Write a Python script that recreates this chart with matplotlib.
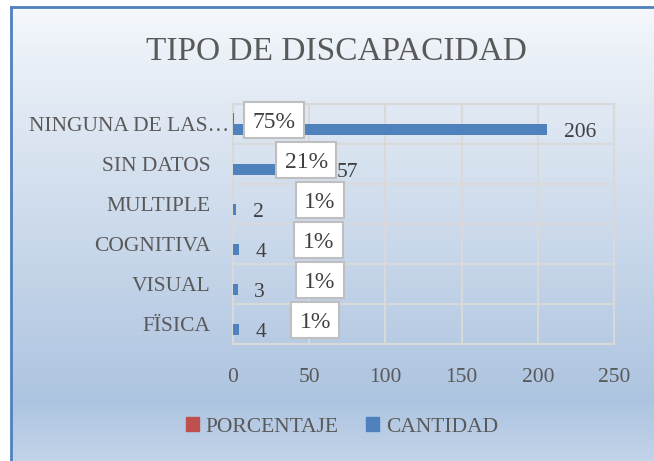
import numpy as np
import matplotlib
matplotlib.use("Agg")
import matplotlib.pyplot as plt
from matplotlib.lines import Line2D
from matplotlib.patches import Patch
from matplotlib.path import Path
from matplotlib.transforms import ScaledTranslation

plt.rcParams["font.family"] = ["Liberation Serif", "DejaVu Serif"]

categories = ["NINGUNA DE LAS…", "SIN DATOS", "MULTIPLE", "COGNITIVA", "VISUAL", "FÏSICA"]
cantidad = [206, 57, 2, 4, 3, 4]
porcentaje = [0.75, 0.21, 0.01, 0.01, 0.01, 0.01]
pct_labels = ["75%", "21%", "1%", "1%", "1%", "1%"]

# where the (manually moved) percentage boxes sit, in data units
pct_label_x = [27, 48, 57, 56, 57, 54]

TEXT = "#595959"
RED = "#c0504d"
BLUE = "#4f81bd"
GRID = "#d9d9d9"
FS = 15.5

W, H = 654, 461
fig = plt.figure(figsize=(W / 100, H / 100), dpi=100)

# gradient chart background with blue border on top/left
bg = fig.add_axes([0, 0, 1, 1], zorder=-10)
stops_y = [7, 100, 250, 400, 461]
stops_c = ["#f5f8fc", "#e2eaf4", "#c8d7ea", "#adc4e0", "#c3d4e9"]
rows = np.arange(H)
rgb = np.array([matplotlib.colors.to_rgb(c) for c in stops_c])
grad = np.stack([np.interp(rows, stops_y, rgb[:, k]) for k in range(3)], axis=1)
img = np.ones((H, W + 10, 3))
img[:, :] = grad[:, None, :]
img[:7, :] = 1
img[:, :11] = 1
bg.imshow(img, extent=(0, W + 10, H, 0), aspect="auto", interpolation="nearest")
bg.set_xlim(0, W)
bg.set_ylim(H, 0)
bg.axis("off")
bg.add_line(Line2D([11, 11], [7, H], color=BLUE, lw=2))
bg.add_line(Line2D([11, W + 5], [7.5, 7.5], color=BLUE, lw=2))

ax = fig.add_axes([233 / W, 1 - 344 / H, (614 - 233) / W, (344 - 104) / H])
ax.set_facecolor("none")

y = np.arange(len(categories))
h = 0.275
ax.barh(y - h / 2, porcentaje, height=h, color=RED, zorder=3)
ax.barh(y + h / 2, cantidad, height=h, color=BLUE, zorder=3)

ax.set_xlim(0, 250)
ax.set_ylim(len(categories) - 0.5, -0.5)
ax.set_xticks(np.arange(0, 251, 50))
ax.set_yticks(y)
ax.set_yticklabels(categories)
ax.set_yticks(np.arange(-0.5, len(categories), 1), minor=True)
ax.grid(True, axis="x", color=GRID, lw=1.5, zorder=0)
ax.grid(True, axis="y", which="minor", color=GRID, lw=1.5, zorder=0)
ax.tick_params(which="both", length=0)
ax.tick_params(axis="y", pad=16, labelsize=FS, labelcolor=TEXT)
ax.tick_params(axis="x", pad=17, labelsize=FS, labelcolor=TEXT)
for s in ax.spines.values():
    s.set_color(GRID)
    s.set_linewidth(1.5)

# truncated label sits closer to the axis
first = ax.get_yticklabels()[0]
first.set_transform(first.get_transform() + ScaledTranslation(0.18, 0, fig.dpi_scale_trans))

for i, v in enumerate(cantidad):
    ax.annotate(str(v), (v, i + h / 2), xytext=(12, -2), textcoords="offset points",
                ha="left", va="center", fontsize=FS, color="#404040", zorder=4)


def pct_box(x0, y0, width, height, mutation_size):
    # extra room on top so caps-only text looks centred in its box
    px, py, top = 0.36 * mutation_size, 0.2 * mutation_size, 0.25 * mutation_size
    l, r = x0 - px, x0 + width + px
    b, t = y0 - py, y0 + height + py + top
    return Path([(l, b), (r, b), (r, t), (l, t), (l, b)], closed=True)


for i, lab in enumerate(pct_labels):
    ax.text(pct_label_x[i], i - 0.03, lab, ha="center", va="center", fontsize=17,
            color="#404040", zorder=5,
            bbox=dict(boxstyle=pct_box, fc="white", ec="#bfbfbf", lw=1.5))

fig.text(336 / W, 1 - 52 / H, "TIPO DE DISCAPACIDAD", ha="center", va="center",
         fontsize=24, color=TEXT)

handles = [Patch(color=RED, label="PORCENTAJE"), Patch(color=BLUE, label="CANTIDAD")]
fig.legend(handles=handles, loc="center", bbox_to_anchor=(342 / W, 1 - 427 / H), ncol=2,
           frameon=False, fontsize=FS, labelcolor=TEXT, handlelength=0.6,
           handleheight=0.6, handletextpad=0.3, columnspacing=1.3)

fig.savefig("out.png", dpi=100)
